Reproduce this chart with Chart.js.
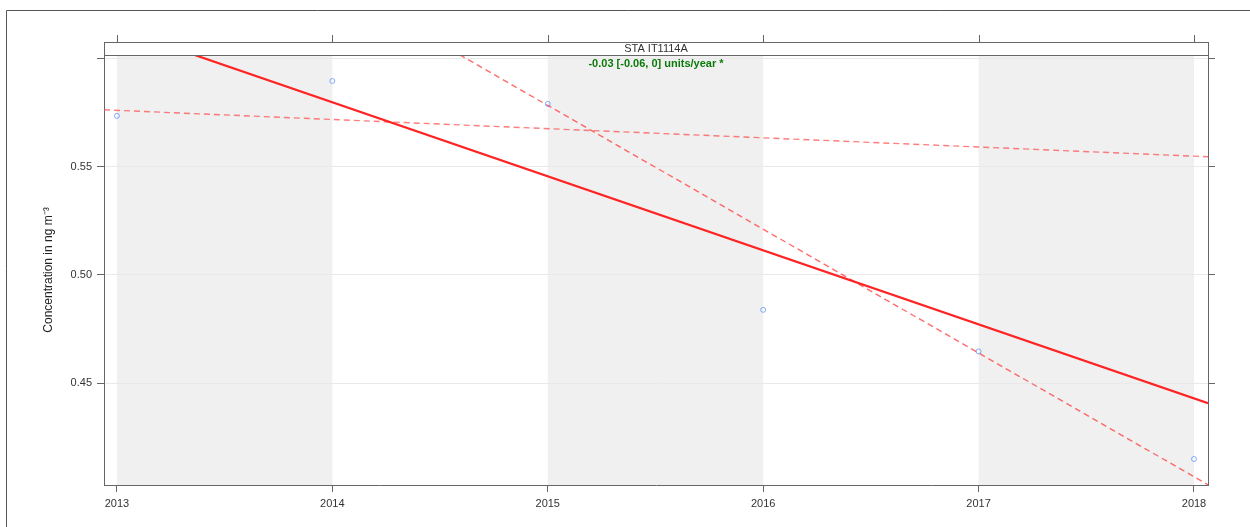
<!DOCTYPE html>
<html lang="en">
<head>
<meta charset="UTF-8">
<title>STA IT1114A trend</title>
<script src="https://cdn.jsdelivr.net/npm/chart.js"></script>
<style>
  html, body { margin: 0; padding: 0; background: #fff; }
  #wrap { width: 1250px; height: 527px; }
</style>
</head>
<body>
<div id="wrap"><canvas id="myChart" width="1250" height="527"></canvas></div>
<script>
// data
const years = [2013, 2014, 2015, 2016, 2017, 2018];
const conc = [0.5735, 0.5896, 0.579, 0.4839, 0.4647, 0.415];
const yTicks = [0.45, 0.50, 0.55, 0.60];

// axis limits
const xRange = [2012.94, 2018.065];
const yRange = [0.403, 0.6016];

// trend line and its confidence limits, values at the axis limits
const trendMid = [0.616, 0.4408];
const trendUpper = [0.5763, 0.5546];
const trendLower = [0.6961, 0.4031];

// shaded year bands (start, end)
const bandStarts = [2013, 2015, 2017];

const stripTitle = 'STA IT1114A';
const trendText = '-0.03 [-0.06, 0] units/year *';

const FONT = 'Liberation Sans, Arial, sans-serif';

function toPoints(xs, ys) {
  return xs.map((x, i) => ({ x: x, y: ys[i] }));
}

// grey bands behind the data
const bandsPlugin = {
  id: 'bands',
  beforeDraw(chart) {
    const { ctx, chartArea, scales } = chart;
    ctx.save();
    ctx.fillStyle = '#f0f0f0';
    bandStarts.forEach(s => {
      const x1 = scales.x.getPixelForValue(s);
      const x2 = scales.x.getPixelForValue(s + 1);
      ctx.fillRect(x1, chartArea.top, x2 - x1, chartArea.bottom - chartArea.top);
    });
    ctx.restore();
  }
};

// strip on top, top ticks, trend text, outer frame
const stripPlugin = {
  id: 'strip',
  afterDraw(chart) {
    const { ctx, chartArea, scales } = chart;
    const stripH = 13;
    const left = chartArea.left, right = chartArea.right, top = chartArea.top;
    ctx.save();
    ctx.fillStyle = '#fff';
    ctx.fillRect(left, top - stripH, right - left, stripH);
    ctx.strokeStyle = '#666';
    ctx.lineWidth = 1;
    ctx.strokeRect(Math.round(left) + 0.5, Math.round(top - stripH) + 0.5, Math.round(right - left), stripH);

    // top ticks
    ctx.beginPath();
    years.forEach(y => {
      const px = Math.round(scales.x.getPixelForValue(y)) + 0.5;
      ctx.moveTo(px, top - stripH);
      ctx.lineTo(px, top - stripH - 7);
    });
    ctx.stroke();

    ctx.textAlign = 'center';
    ctx.textBaseline = 'middle';
    ctx.fillStyle = '#333';
    ctx.font = '11px ' + FONT;
    ctx.fillText(stripTitle, (left + right) / 2, top - stripH / 2 + 0.5);

    ctx.fillStyle = '#0b7a0b';
    ctx.font = 'bold 11px ' + FONT;
    ctx.fillText(trendText, (left + right) / 2, top + 9);

    // outer frame
    ctx.strokeStyle = '#555';
    ctx.beginPath();
    ctx.moveTo(6.5, 527);
    ctx.lineTo(6.5, 10.5);
    ctx.lineTo(1250, 10.5);
    ctx.stroke();
    ctx.restore();
  }
};

const ctx = document.getElementById('myChart').getContext('2d');
const myChart = new Chart(ctx, {
  type: 'scatter',
  data: {
    datasets: [
      {
        label: 'Concentration',
        data: toPoints(years, conc),
        showLine: false,
        pointRadius: 2.5,
        pointBorderWidth: 1,
        pointBorderColor: 'rgba(40,110,255,0.55)',
        pointBackgroundColor: 'rgba(0,0,0,0)',
        order: 0
      },
      {
        label: 'Trend',
        data: toPoints(xRange, trendMid),
        showLine: true,
        pointRadius: 0,
        borderColor: '#ff2424',
        borderWidth: 2.2,
        order: 1
      },
      {
        label: 'Upper',
        data: toPoints(xRange, trendUpper),
        showLine: true,
        pointRadius: 0,
        borderColor: 'rgba(255,70,70,0.7)',
        borderWidth: 1.4,
        borderDash: [6, 4],
        order: 2
      },
      {
        label: 'Lower',
        data: toPoints(xRange, trendLower),
        showLine: true,
        pointRadius: 0,
        borderColor: 'rgba(255,70,70,0.8)',
        borderWidth: 1.4,
        borderDash: [6, 4],
        order: 2
      }
    ]
  },
  options: {
    responsive: false,
    animation: false,
    events: [],
    layout: { padding: { left: 0, top: 55, right: 0, bottom: 0 } },
    plugins: {
      legend: { display: false },
      tooltip: { enabled: false }
    },
    scales: {
      x: {
        type: 'linear',
        position: 'bottom',
        min: xRange[0],
        max: xRange[1],
        afterBuildTicks: s => { s.ticks = years.map(v => ({ value: v })); },
        afterFit: s => { s.height = 42; },
        ticks: {
          color: '#333',
          font: { family: FONT, size: 11 },
          padding: 5,
          maxRotation: 0,
          callback: v => String(v)
        },
        grid: { drawOnChartArea: false, tickLength: 7, tickColor: '#666' },
        border: { color: '#666', width: 1 }
      },
      y: {
        type: 'linear',
        position: 'left',
        min: yRange[0],
        max: yRange[1],
        afterBuildTicks: s => { s.ticks = yTicks.map(v => ({ value: v })); },
        afterFit: s => { s.width = 104; },
        ticks: {
          color: '#333',
          font: { family: FONT, size: 11 },
          padding: 5,
          callback: v => (v > 0.58 ? '' : v.toFixed(2))
        },
        grid: { color: '#e9e9e9', tickLength: 7, tickColor: '#666' },
        border: { color: '#666', width: 1 },
        title: {
          display: true,
          text: 'Concentration in ng m\u207B\u00B3',
          color: '#222',
          font: { family: FONT, size: 12 },
          padding: { top: 41, bottom: 0 }
        }
      },
      y2: {
        type: 'linear',
        position: 'right',
        min: yRange[0],
        max: yRange[1],
        afterBuildTicks: s => { s.ticks = yTicks.map(v => ({ value: v })); },
        afterFit: s => { s.width = 42; },
        ticks: { display: false },
        grid: { drawOnChartArea: false, tickLength: 7, tickColor: '#666' },
        border: { color: '#666', width: 1 }
      }
    }
  },
  plugins: [bandsPlugin, stripPlugin]
});
</script>
</body>
</html>
